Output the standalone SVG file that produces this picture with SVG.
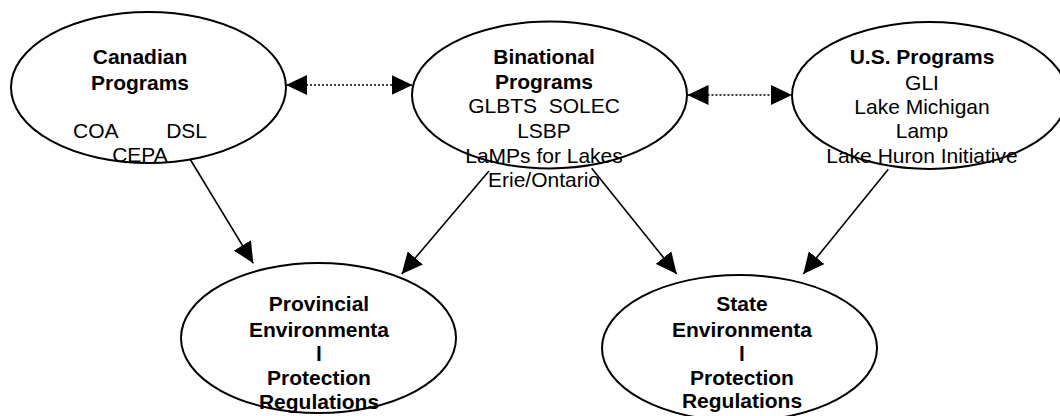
<svg xmlns="http://www.w3.org/2000/svg" width="1060" height="416" viewBox="0 0 1060 416">
<style>
.node ellipse{fill:#fff;stroke:#000;stroke-width:2}
text{font-family:"Liberation Sans",Arial,sans-serif;font-size:21px;fill:#000;text-anchor:middle}
.b{font-weight:bold}
.conn line{stroke:#000;stroke-width:1.6}
.dot{stroke-dasharray:2 2}
</style>
<defs>
<marker id="ah" markerUnits="userSpaceOnUse" markerWidth="21" markerHeight="20" refX="21" refY="10" orient="auto-start-reverse" viewBox="0 0 21 20">
<path d="M0,0 L21,10 L0,20 z" fill="#000"/>
</marker>
</defs>
<rect width="1060" height="416" fill="#fff"/>
<g id="canadian" class="node">
<ellipse cx="148.5" cy="87.5" rx="137.5" ry="75.5"/>
<text x="140" y="64" class="b">Canadian</text>
<text x="140" y="90" class="b">Programs</text>
<text x="73" y="138" style="text-anchor:start">COA</text>
<text x="207" y="138" style="text-anchor:end">DSL</text>
<text x="140" y="162">CEPA</text>
</g>
<g id="binational" class="node">
<ellipse cx="549.5" cy="95" rx="137.5" ry="73.5"/>
<text x="544" y="64.3" class="b">Binational</text>
<text x="544" y="89" class="b">Programs</text>
<text x="544" y="113.3" xml:space="preserve">GLBTS  SOLEC</text>
<text x="544" y="138">LSBP</text>
<text x="544" y="162.7">LaMPs for Lakes</text>
<text x="544" y="186.7">Erie/Ontario</text>
</g>
<g id="us" class="node">
<ellipse cx="929.5" cy="95.5" rx="137.5" ry="73.5"/>
<text x="922" y="64" class="b">U.S. Programs</text>
<text x="922" y="90">GLI</text>
<text x="922" y="114">Lake Michigan</text>
<text x="922" y="138">Lamp</text>
<text x="922" y="163">Lake Huron Initiative</text>
</g>
<g id="provincial" class="node">
<ellipse cx="318.5" cy="338" rx="137.5" ry="75"/>
<text x="319" y="311" class="b">Provincial</text>
<text x="319" y="337" class="b">Environmenta</text>
<text x="319" y="361" class="b">l</text>
<text x="319" y="385" class="b">Protection</text>
<text x="319" y="409" class="b">Regulations</text>
</g>
<g id="state" class="node">
<ellipse cx="739.5" cy="348" rx="137.5" ry="73"/>
<text x="742" y="311" class="b">State</text>
<text x="742" y="337" class="b">Environmenta</text>
<text x="742" y="361" class="b">l</text>
<text x="742" y="385" class="b">Protection</text>
<text x="742" y="408" class="b">Regulations</text>
</g>
<g id="connectors" class="conn">
<line class="dot" x1="286" y1="85" x2="412.5" y2="85" marker-start="url(#ah)" marker-end="url(#ah)"/>
<line class="dot" x1="687.5" y1="95" x2="792" y2="95" marker-start="url(#ah)" marker-end="url(#ah)"/>
<line x1="190" y1="159" x2="253.3" y2="263.3" marker-end="url(#ah)"/>
<line x1="489" y1="171" x2="401.7" y2="274" marker-end="url(#ah)"/>
<line x1="591.7" y1="168.3" x2="676.7" y2="274" marker-end="url(#ah)"/>
<line x1="888.3" y1="169.3" x2="803.3" y2="274" marker-end="url(#ah)"/>
</g>
</svg>
